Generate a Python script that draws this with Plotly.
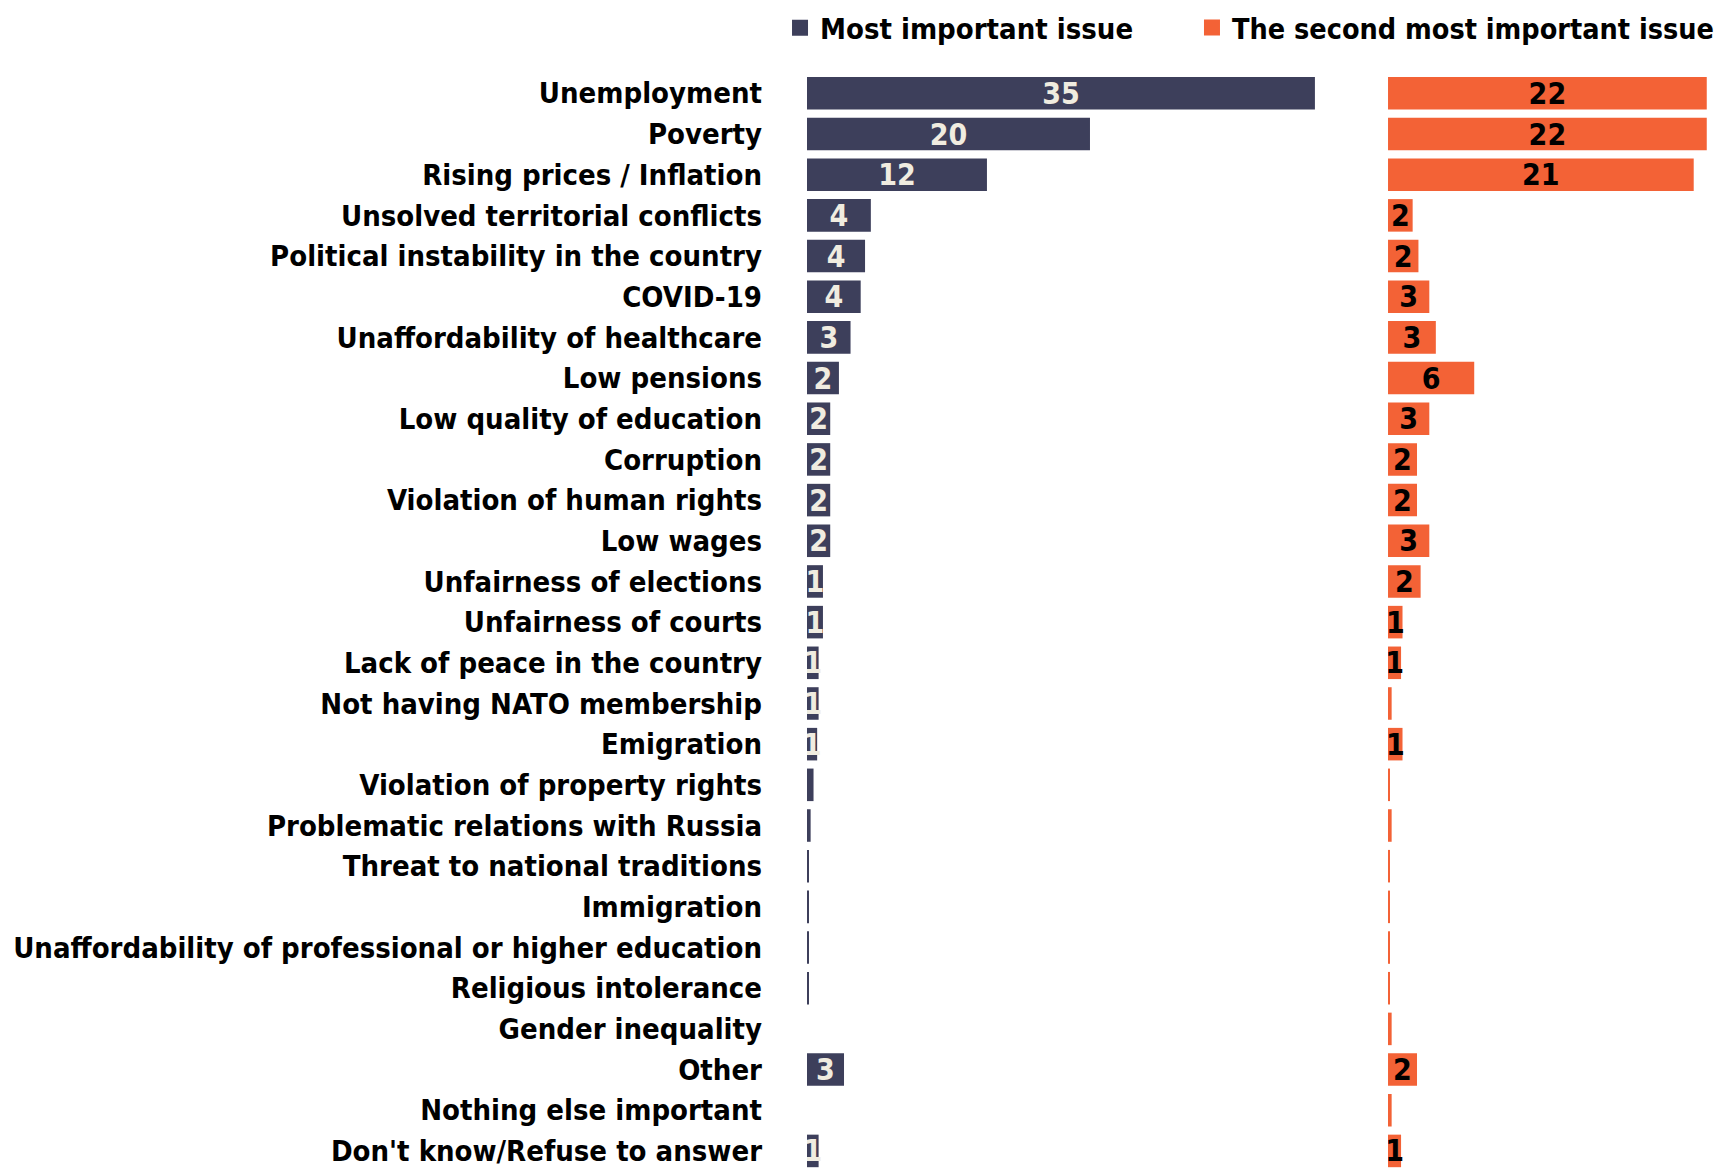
import plotly.graph_objects as go
from plotly.subplots import make_subplots

# Issues, top to bottom
issues = [
    "Unemployment", "Poverty", "Rising prices / Inflation",
    "Unsolved territorial conflicts", "Political instability in the country",
    "COVID-19", "Unaffordability of healthcare", "Low pensions",
    "Low quality of education", "Corruption", "Violation of human rights",
    "Low wages", "Unfairness of elections", "Unfairness of courts",
    "Lack of peace in the country", "Not having NATO membership",
    "Emigration", "Violation of property rights",
    "Problematic relations with Russia", "Threat to national traditions",
    "Immigration", "Unaffordability of professional or higher education",
    "Religious intolerance", "Gender inequality", "Other",
    "Nothing else important", "Don't know/Refuse to answer",
]

# % naming it the most important issue
most_important = [
    35, 19.5, 12.4, 4.4, 4.0, 3.7, 3.0, 2.2, 1.6, 1.6, 1.6, 1.6, 1.1, 1.1,
    0.8, 0.8, 0.7, 0.45, 0.25, 0.1, 0.1, 0.1, 0.1, 0, 2.55, 0, 0.8,
]

# % naming it the second most important issue
second_important = [
    22, 22, 21.1, 1.7, 2.1, 2.85, 3.3, 5.95, 2.85, 2.0, 2.0, 2.85, 2.25, 1.0,
    0.9, 0.25, 1.0, 0.12, 0.25, 0.12, 0.12, 0.12, 0.12, 0.25, 2.0, 0.25, 0.9,
]

series_names = ["Most important issue", "The second most important issue"]

NAVY = "#3d3f5b"
ORANGE = "#f36236"
FONT = "DejaVu Sans Condensed, DejaVu Sans"

# the page body has an 8px margin, so the figure sits 8px in from the window
W, H = 1708, 1160


def bar_labels(values):
    # small slivers get no number, like the original
    return [str(int(v + 0.5)) if v >= 0.5 else "" for v in values]


fig = make_subplots(rows=1, cols=2, shared_yaxes=True, horizontal_spacing=0.0)

fig.add_trace(go.Bar(
    y=issues, x=most_important, orientation="h", name=series_names[0],
    marker=dict(color=NAVY, line=dict(width=0)),
    text=bar_labels(most_important), textposition="inside",
    insidetextanchor="middle", textangle=0,
    textfont=dict(color="#f0ece0", size=30, family=FONT, weight="bold"),
    hoverinfo="y+x", showlegend=False,
), 1, 1)

fig.add_trace(go.Bar(
    y=issues, x=second_important, orientation="h", name=series_names[1],
    marker=dict(color=ORANGE, line=dict(width=0)),
    text=bar_labels(second_important), textposition="inside",
    insidetextanchor="middle", textangle=0,
    textfont=dict(color="black", size=30, family=FONT, weight="bold"),
    hoverinfo="y+x", showlegend=False,
), 1, 2)

# legend-only entries with bigger square swatches, one legend box each
for name, color, leg in zip(series_names, [NAVY, ORANGE], ["legend", "legend2"]):
    fig.add_trace(go.Scatter(
        x=[None], y=[None], mode="markers", name=name, legend=leg,
        marker=dict(symbol="square", size=18, color=color),
    ), 1, 1)

legend_style = dict(
    orientation="h", xref="container", yref="container",
    y=1 - 20 / H, xanchor="left", yanchor="middle",
    itemwidth=30, bgcolor="rgba(0,0,0,0)",
)

fig.update_layout(
    width=W, height=H,
    margin=dict(l=799, r=2, t=65, b=0),
    plot_bgcolor="white", paper_bgcolor="white",
    font=dict(family=FONT, size=29, color="black"),
    bargap=0.2,
    uniformtext=dict(minsize=30, mode="show"),
    legend=dict(x=0.452, font=dict(size=29, family=FONT, weight="bold"),
                **legend_style),
    legend2=dict(x=0.6932, font=dict(size=28.5, family=FONT, weight="bold"),
                 **legend_style),
    showlegend=True,
)

fig.update_xaxes(visible=False, showgrid=False, zeroline=False)
fig.update_xaxes(range=[0, 35.5], domain=[0, 0.568], row=1, col=1)
fig.update_xaxes(range=[0, 22.5], domain=[0.6406, 1], row=1, col=2)

fig.update_yaxes(
    range=[26.42, -0.5], showgrid=False, zeroline=False,
    showline=False, ticks="", automargin=False,
)
fig.update_yaxes(
    tickfont=dict(size=29, family=FONT, weight="bold", color="black"),
    ticklabelstandoff=44, row=1, col=1,
)
fig.update_yaxes(showticklabels=False, row=1, col=2)

fig.write_html("out.html")
